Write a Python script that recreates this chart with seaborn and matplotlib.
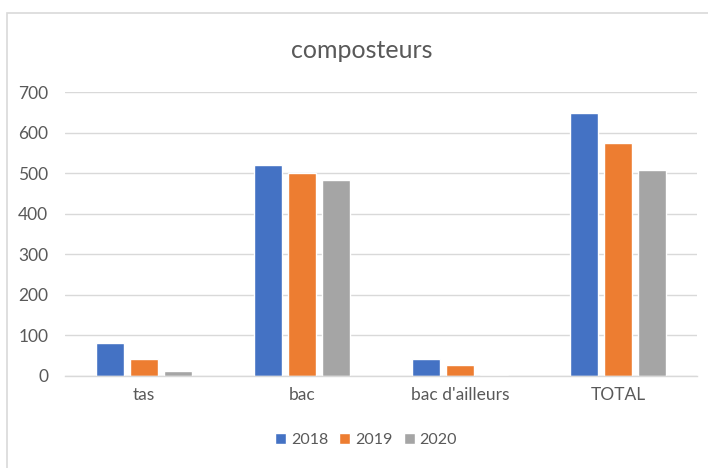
import matplotlib
matplotlib.use("Agg")
import matplotlib.pyplot as plt
import seaborn as sns
import pandas as pd
from matplotlib.patches import Rectangle

categories = ["tas", "bac", "bac d'ailleurs", "TOTAL"]
years = ["2018", "2019", "2020"]
values_2018 = [82, 521, 41, 649]
values_2019 = [41, 500, 26, 574]
values_2020 = [13, 482, 3, 507]
colors = ["#4472C4", "#ED7D31", "#A5A5A5"]

rows = []
for yr, vals in zip(years, [values_2018, values_2019, values_2020]):
    for c, v in zip(categories, vals):
        rows.append({"cat": c, "year": yr, "val": v})
df = pd.DataFrame(rows)

sns.set_theme(style="white")
plt.rcParams['font.family'] = ['Lato', 'DejaVu Sans']

fig = plt.figure(figsize=(7.08, 4.68), dpi=100)
ax = fig.add_axes([65/708, 1 - 376/468, 632/708, 284/468])

sns.barplot(data=df, x="cat", y="val", hue="year", palette=colors,
            width=0.64, gap=0.16, ax=ax, legend=True, saturation=1)

ax.set_ylim(0, 700)
ax.set_yticks(range(0, 701, 100))
ax.yaxis.grid(True, color="#D9D9D9", linewidth=1)
ax.set_axisbelow(True)
for s in ["left", "right", "top"]:
    ax.spines[s].set_visible(False)
ax.spines["bottom"].set_color("#D9D9D9")
ax.spines["bottom"].set_linewidth(1)
ax.set_xlabel("")
ax.set_ylabel("")
ax.tick_params(axis="both", length=0, labelsize=12.5, labelcolor="#595959", pad=8)
ax.tick_params(axis="y", pad=12)

fig.text(362/708, 1 - 50/468, "composteurs", ha="center", va="center",
         fontsize=18, color="#595959")

leg = ax.get_legend()
handles, labels = ax.get_legend_handles_labels()
leg.remove()
fig.legend(handles, labels, loc="center", bbox_to_anchor=(366/708, 1 - 440/468),
           ncol=3, frameon=False, fontsize=11.5, handlelength=0.7, handleheight=0.7,
           handletextpad=0.3, columnspacing=0.7, labelcolor="#595959")

fig.patches.append(Rectangle((7/708, -0.01), 1.0, 1 - 12.5/468 + 0.01,
                             transform=fig.transFigure, fill=False,
                             edgecolor="#D9D9D9", linewidth=1.2))

fig.savefig("out.png", dpi=100, facecolor="white")
